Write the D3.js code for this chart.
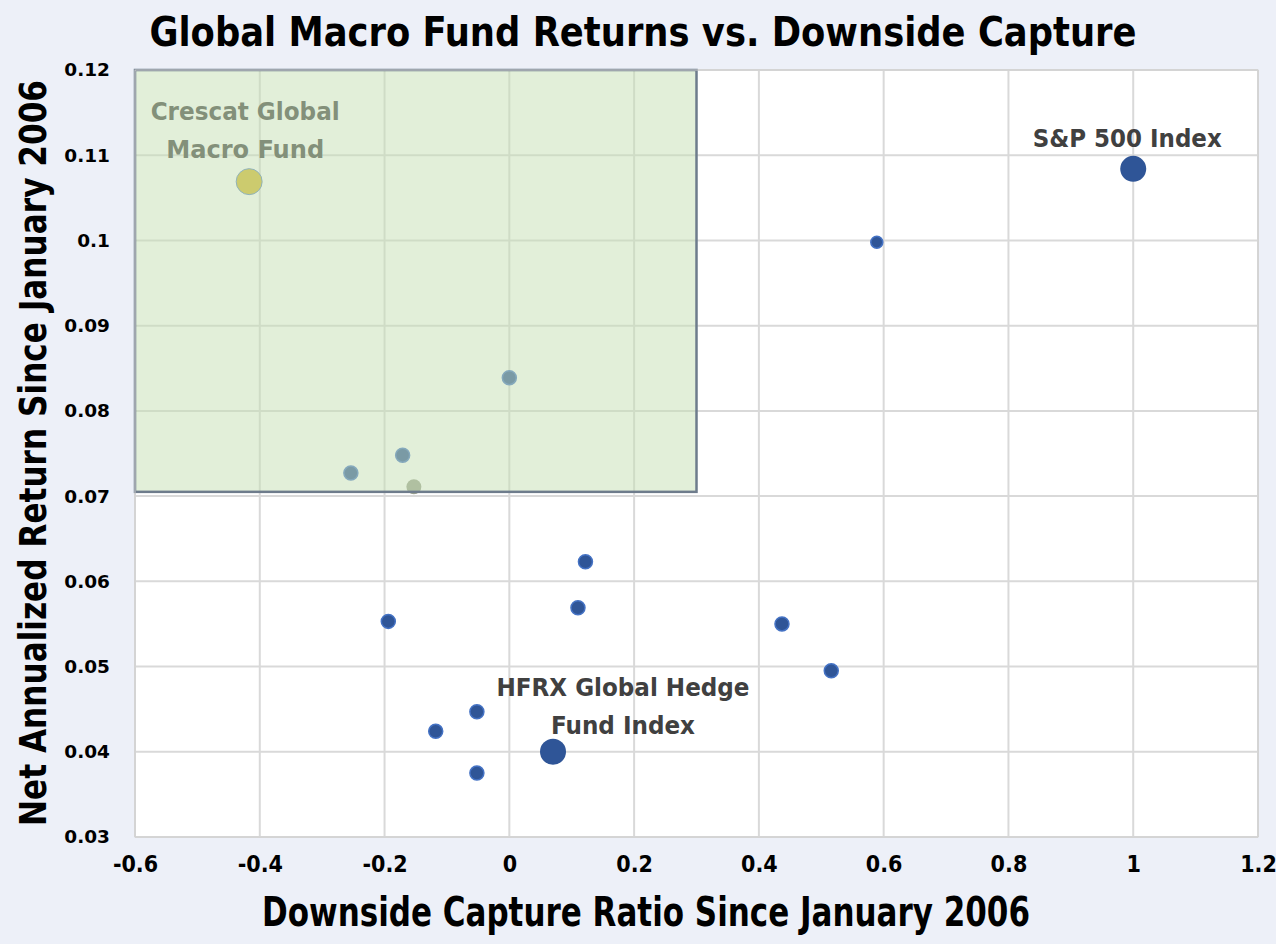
<!DOCTYPE html>
<html>
<head>
<meta charset="utf-8">
<script src="https://cdn.jsdelivr.net/npm/d3@7"></script>
<style>
	body { margin: 0; background: #EDF0F8; }
	svg { display: block; }
</style>
</head>
<body>
<svg id="chart" width="1276" height="944"></svg>
<script>
// Downside capture ratio (x) and net annualized return (y) since Jan 2006
const fundCapture = [0.589, 0.0, -0.171, -0.254, 0.122, 0.110, -0.194, 0.437, 0.516, -0.052, -0.118, -0.052];
const fundReturn = [0.0998, 0.0839, 0.0748, 0.0727, 0.0623, 0.0569, 0.0553, 0.0550, 0.0495, 0.0447, 0.0424, 0.0375];
const fundSize = ['s', 'm', 'm', 'm', 'm', 'm', 'm', 'm', 'm', 'm', 'm', 'm'];

const greyCapture = [-0.153];
const greyReturn = [0.0711];

const indexNames = ['S&P 500 Index', 'HFRX Global Hedge Fund Index'];
const indexCapture = [1.0, 0.07];
const indexReturn = [0.1084, 0.0400];

const crescatName = 'Crescat Global Macro Fund';
const crescatCapture = [-0.417];
const crescatReturn = [0.1069];

// highlighted zone: low downside capture with high returns
const zoneCapture = [-0.6, 0.3];
const zoneReturn = [0.0705, 0.12];

const xTicks = [-0.6, -0.4, -0.2, 0, 0.2, 0.4, 0.6, 0.8, 1, 1.2];
const yTicks = [0.03, 0.04, 0.05, 0.06, 0.07, 0.08, 0.09, 0.1, 0.11, 0.12];

const svg = d3.select('#chart');
const margin = { top: 70, right: 18, bottom: 107, left: 135 };
const W = 1276, H = 944;

const x = d3.scaleLinear().domain([-0.6, 1.2]).range([margin.left, W - margin.right]);
const y = d3.scaleLinear().domain([0.03, 0.12]).range([H - margin.bottom, margin.top]);

const condensed = "'DejaVu Sans Condensed', 'Liberation Sans Narrow', 'Open Sans', sans-serif";

// plot area
svg.append('rect')
	.attr('x', x(-0.6)).attr('y', y(0.12))
	.attr('width', x(1.2) - x(-0.6)).attr('height', y(0.03) - y(0.12))
	.attr('fill', 'white');

// grid
svg.append('g')
	.selectAll('line.vgrid')
	.data(xTicks)
	.join('line')
	.attr('class', 'vgrid')
	.attr('x1', (d) => x(d)).attr('x2', (d) => x(d))
	.attr('y1', y(0.12)).attr('y2', y(0.03))
	.attr('stroke', '#D9D9D9').attr('stroke-width', 2);

svg.append('g')
	.selectAll('line.hgrid')
	.data(yTicks)
	.join('line')
	.attr('class', 'hgrid')
	.attr('x1', x(-0.6)).attr('x2', x(1.2))
	.attr('y1', (d) => y(d)).attr('y2', (d) => y(d))
	.attr('stroke', '#D9D9D9').attr('stroke-width', 2);

// axes (labels only, Excel style)
const xAxis = svg.append('g')
	.attr('transform', `translate(0,${y(0.03)})`)
	.call(d3.axisBottom(x).tickValues(xTicks).tickSize(0).tickPadding(19).tickFormat((d) => String(d)));
xAxis.select('.domain').remove();
xAxis.selectAll('text')
	.attr('font-family', condensed)
	.attr('font-weight', 'bold')
	.attr('font-size', 23)
	.attr('fill', '#000');

const yAxis = svg.append('g')
	.attr('transform', `translate(${x(-0.6)},0)`)
	.call(d3.axisLeft(y).tickValues(yTicks).tickSize(0).tickPadding(25).tickFormat((d) => String(+d.toFixed(2))));
yAxis.select('.domain').remove();
yAxis.selectAll('text')
	.attr('font-family', "'DejaVu Sans', Verdana, sans-serif")
	.attr('font-weight', 'bold')
	.attr('font-size', 18.5)
	.attr('fill', '#000');

// points
const pts = svg.append('g');

pts.selectAll('circle.fund')
	.data(fundCapture.map((c, i) => ({ c, r: fundReturn[i], s: fundSize[i] })))
	.join('circle')
	.attr('class', 'fund')
	.attr('cx', (d) => x(d.c))
	.attr('cy', (d) => y(d.r))
	.attr('r', (d) => (d.s === 's' ? 6 : 7))
	.attr('fill', '#2F5597')
	.attr('stroke', '#4472C4')
	.attr('stroke-width', 1.5);

pts.selectAll('circle.grey')
	.data(greyCapture.map((c, i) => ({ c, r: greyReturn[i] })))
	.join('circle')
	.attr('class', 'grey')
	.attr('cx', (d) => x(d.c))
	.attr('cy', (d) => y(d.r))
	.attr('r', 7.5)
	.attr('fill', '#9AA08E');

pts.selectAll('circle.index')
	.data(indexCapture.map((c, i) => ({ c, r: indexReturn[i] })))
	.join('circle')
	.attr('class', 'index')
	.attr('cx', (d) => x(d.c))
	.attr('cy', (d) => y(d.r))
	.attr('r', 13)
	.attr('fill', '#2F5597');

pts.selectAll('circle.crescat')
	.data(crescatCapture.map((c, i) => ({ c, r: crescatReturn[i] })))
	.join('circle')
	.attr('class', 'crescat')
	.attr('cx', (d) => x(d.c))
	.attr('cy', (d) => y(d.r))
	.attr('r', 13)
	.attr('fill', '#D2B628')
	.attr('stroke', '#5B86C0')
	.attr('stroke-width', 1);

// data labels
function label(lines, cx, baseline, lengths) {
	const t = svg.append('text')
		.attr('font-family', condensed)
		.attr('font-weight', 'bold')
		.attr('font-size', 25)
		.attr('fill', '#404040')
		.attr('text-anchor', 'middle');
	lines.forEach((line, i) => {
		t.append('tspan')
			.attr('x', cx)
			.attr('y', baseline + i * 38)
			.attr('textLength', lengths[i])
			.attr('lengthAdjust', 'spacingAndGlyphs')
			.text(line);
	});
}

label([indexNames[0]], x(indexCapture[0]) - 6, y(indexReturn[0]) - 22, [189]);
label(['HFRX Global Hedge', 'Fund Index'], x(indexCapture[1]) + 70, y(indexReturn[1]) - 56, [253, 144]);
label(['Crescat Global', 'Macro Fund'], x(crescatCapture[0]) - 4, y(crescatReturn[0]) - 62, [189, 158]);

// translucent highlight box drawn over the points
svg.append('rect')
	.attr('x', x(zoneCapture[0]))
	.attr('y', y(zoneReturn[1]))
	.attr('width', x(zoneCapture[1]) - x(zoneCapture[0]))
	.attr('height', y(zoneReturn[0]) - y(zoneReturn[1]))
	.attr('fill', '#C5E0B4')
	.attr('fill-opacity', 0.5)
	.attr('stroke', '#6E7C8C')
	.attr('stroke-width', 2.5);

// plot border
svg.append('rect')
	.attr('x', x(-0.6)).attr('y', y(0.12))
	.attr('width', x(1.2) - x(-0.6)).attr('height', y(0.03) - y(0.12))
	.attr('fill', 'none')
	.attr('stroke', '#D0D0D0')
	.attr('stroke-width', 1);

// titles
svg.append('text')
	.attr('x', 643).attr('y', 46)
	.attr('text-anchor', 'middle')
	.attr('font-family', condensed)
	.attr('font-weight', 'bold')
	.attr('font-size', 40)
	.attr('textLength', 987)
	.attr('lengthAdjust', 'spacingAndGlyphs')
	.text('Global Macro Fund Returns vs. Downside Capture');

svg.append('text')
	.attr('x', 646).attr('y', 926)
	.attr('text-anchor', 'middle')
	.attr('font-family', condensed)
	.attr('font-weight', 'bold')
	.attr('font-size', 40)
	.attr('textLength', 768)
	.attr('lengthAdjust', 'spacingAndGlyphs')
	.text('Downside Capture Ratio Since January 2006');

svg.append('text')
	.attr('transform', 'translate(46,453) rotate(-90)')
	.attr('text-anchor', 'middle')
	.attr('font-family', condensed)
	.attr('font-weight', 'bold')
	.attr('font-size', 37)
	.attr('textLength', 746)
	.attr('lengthAdjust', 'spacingAndGlyphs')
	.text('Net Annualized Return Since January 2006');
</script>
</body>
</html>
